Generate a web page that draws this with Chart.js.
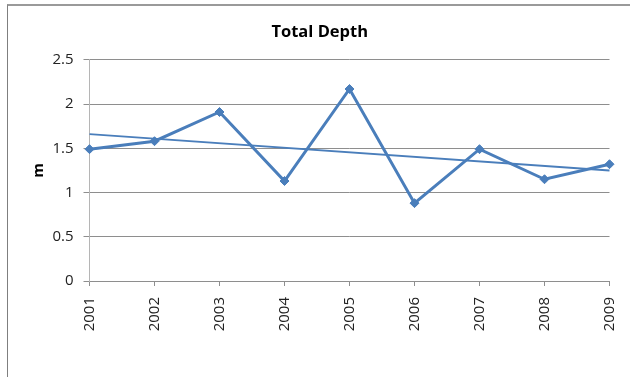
<!DOCTYPE html>
<html lang="en">
<head>
    <meta charset="UTF-8">
    <title>Total Depth</title>
    <script src="https://cdn.jsdelivr.net/npm/chart.js"></script>
    <style>
        html, body { margin: 0; padding: 0; background: #fff; }
        #wrap { position: relative; width: 630px; height: 377px; overflow: hidden; }
        #frame {
            position: absolute; left: 7px; top: 4px; width: 700px; height: 400px;
            border-left: 1px solid #7f7f7f; border-top: 2px solid #9a9a9a;
        }
        #grafico { position: absolute; left: 0; top: 0; }
    </style>
</head>
<body>
    <div id="wrap">
        <div id="frame"></div>
        <canvas id="grafico" width="630" height="377"></canvas>
    </div>

    <script>
        // Años y profundidad total (m)
        const years = ['2001', '2002', '2003', '2004', '2005', '2006', '2007', '2008', '2009'];
        const depth = [1.49, 1.58, 1.91, 1.13, 2.17, 0.88, 1.49, 1.15, 1.32];
        // Línea de tendencia: sólo los extremos
        const trend = [1.66, null, null, null, null, null, null, null, 1.25];

        const yMin = 0, yMax = 2.5, yStep = 0.5;
        const blue = '#4a7ebb';
        const font = 'Open Sans';

        const ctx = document.getElementById('grafico').getContext('2d');
        const chart = new Chart(ctx, {
            type: 'line',
            data: {
                labels: years,
                datasets: [{
                    label: 'Total Depth',
                    data: depth,
                    borderColor: blue,
                    backgroundColor: blue,
                    borderWidth: 3,
                    pointStyle: 'rectRot',
                    pointRadius: 4.5,
                    pointBorderWidth: 1,
                    tension: 0,
                    fill: false
                }, {
                    label: 'Tendencia',
                    data: trend,
                    borderColor: blue,
                    borderWidth: 2,
                    pointRadius: 0,
                    spanGaps: true,
                    fill: false
                }]
            },
            options: {
                responsive: false,
                animation: false,
                layout: { padding: { left: 30, right: 20.5, top: 0, bottom: 0 } },
                plugins: {
                    legend: { display: false },
                    tooltip: { enabled: false },
                    title: {
                        display: true,
                        text: 'Total Depth',
                        color: '#000',
                        font: { family: font, size: 16.5, weight: 'bold' },
                        padding: { top: 22, bottom: 18 }
                    }
                },
                scales: {
                    x: {
                        offset: false,
                        afterFit: s => {
                            s.height = 96;
                            // sin margen extra por las etiquetas giradas
                            s.paddingLeft = 0;
                            s.paddingRight = 0;
                        },
                        grid: { drawOnChartArea: false, drawTicks: true, tickLength: 5, color: '#8e8e8e' },
                        border: { color: '#8e8e8e', width: 1 },
                        ticks: {
                            color: '#222',
                            font: { family: font, size: 15 },
                            minRotation: 90,
                            maxRotation: 90,
                            padding: 11,
                            autoSkip: false
                        }
                    },
                    y: {
                        min: yMin,
                        max: yMax,
                        afterFit: s => { s.width = 59.5; },
                        grid: { color: '#8e8e8e', tickLength: 6 },
                        border: { color: '#b5b5b5', width: 1 },
                        ticks: {
                            stepSize: yStep,
                            color: '#222',
                            font: { family: font, size: 15 },
                            padding: 10,
                            callback: v => String(+v.toFixed(1))
                        },
                        title: {
                            display: true,
                            text: 'm',
                            color: '#000',
                            font: { family: font, size: 15, weight: 'bold' },
                            padding: { top: 0, bottom: 0 }
                        }
                    }
                }
            }
        });
    </script>
</body>
</html>
